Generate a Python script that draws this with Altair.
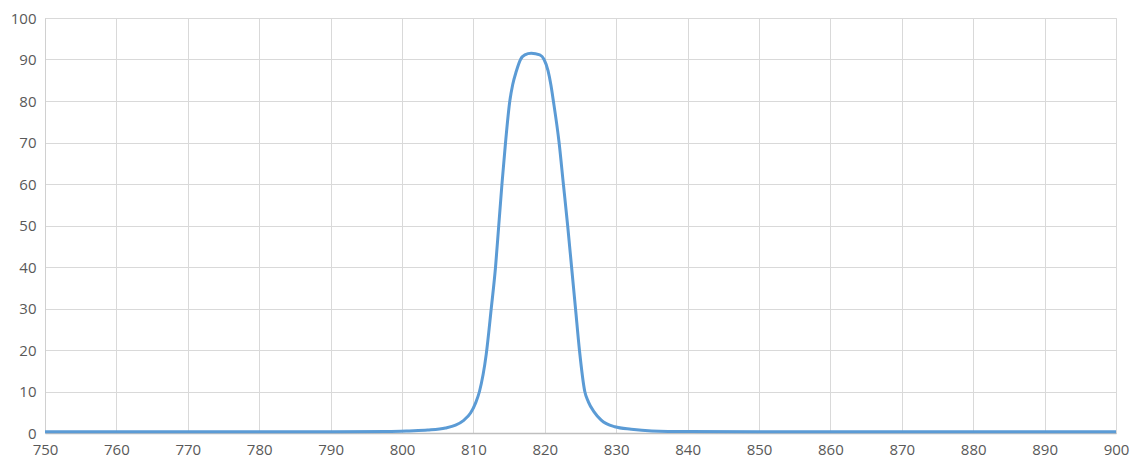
import altair as alt
import pandas as pd

wavelength = [750, 790, 798, 801, 803.6, 806.1, 807.5, 808.6, 809.6, 810.3, 810.85,
              811.8, 812.5, 813.1, 813.55, 814.0, 814.5, 815.1, 815.5, 816.0, 816.6,
              817.2, 818.1, 819.3, 819.9, 820.45, 820.85, 821.2, 822.0, 822.6,
              823.2, 823.75, 824.3, 824.85, 825.6, 826.1, 826.9, 827.9, 829.8, 832.1,
              835, 840, 850, 900]
transmission = [0.3, 0.3, 0.35, 0.5, 0.7, 1.2, 1.9, 3.0, 4.8, 7.2, 10,
                19, 30, 40, 50, 60, 70, 80, 83.9, 87.1, 90,
                91.1, 91.5, 91.1, 90, 87.3, 83.9, 80, 70, 60,
                50, 40, 30, 20, 10, 7.5, 5.1, 3.1, 1.5, 0.9,
                0.5, 0.35, 0.3, 0.3]
x_ticks = list(range(750, 901, 10))
y_ticks = list(range(0, 101, 10))

df = pd.DataFrame({"wl": wavelength, "t": transmission})

chart = alt.Chart(df).mark_line(
    color="#5B9BD5", strokeWidth=3, interpolate="monotone"
).encode(
    x=alt.X("wl:Q", scale=alt.Scale(domain=[750, 900], nice=False, zero=False),
            axis=alt.Axis(values=x_ticks, title=None, grid=True, gridColor="#d9d9d9",
                          domainColor="#bfbfbf", domainWidth=1.5, ticks=False,
                          labelPadding=9, labelFontSize=15, labelColor="#595959",
                          labelFont="Open Sans", format="d", labelFlush=False)),
    y=alt.Y("t:Q", scale=alt.Scale(domain=[0, 100], nice=False),
            axis=alt.Axis(values=y_ticks, title=None, grid=True, gridColor="#d9d9d9",
                          domainColor="#d0d0d0", ticks=False,
                          labelPadding=9, labelFontSize=15, labelColor="#595959",
                          labelFont="Open Sans", format="d", labelFlush=False)),
).properties(
    width=1071, height=415,
    autosize=alt.AutoSizeParams(type="none"),
    padding={"left": 37, "top": 10, "right": 14, "bottom": 27},
).configure_view(stroke=None).configure(background="white")

chart.save("out.html", embed_options={"renderer": "svg", "actions": False})
